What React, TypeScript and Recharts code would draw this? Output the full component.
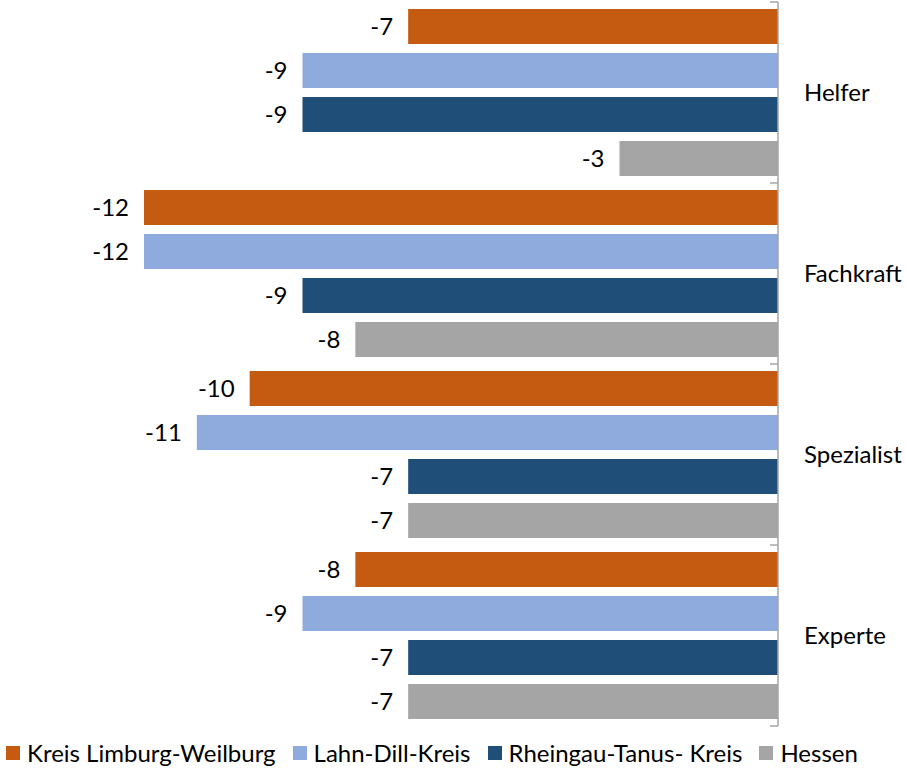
import { BarChart, Bar, XAxis, YAxis, LabelList } from "recharts";

const categories = ["Helfer", "Fachkraft", "Spezialist", "Experte"];
const seriesNames = ["Kreis Limburg-Weilburg", "Lahn-Dill-Kreis", "Rheingau-Tanus- Kreis", "Hessen"];
const seriesColors = ["#C55A11", "#8FAADC", "#1F4E79", "#A5A5A5"];
const limburg = [-7, -12, -10, -8];
const lahnDill = [-9, -12, -11, -9];
const rheingau = [-9, -9, -7, -7];
const hessen = [-3, -8, -7, -7];

const values = [limburg, lahnDill, rheingau, hessen];
const keys = ["s0", "s1", "s2", "s3"];

const data = categories.map((name, i) => {
  const row: Record<string, string | number> = { name };
  keys.forEach((k, j) => {
    row[k] = values[j][i];
  });
  return row;
});

const FONT = "Lato, 'Open Sans', sans-serif";
const FONT_SIZE = 24;
const PLOT_TOP = 2;
const PLOT_HEIGHT = 724;
const BAND = PLOT_HEIGHT / categories.length;
const TICK_MARGIN = 26;

function CategoryTick(props: any) {
  const { x, y, payload, index } = props;
  const axisX = x - TICK_MARGIN;
  const half = BAND / 2;
  return (
    <g>
      <line x1={axisX - 8} x2={axisX} y1={y - half} y2={y - half} stroke="#A6A6A6" strokeWidth={1.5} />
      {index === categories.length - 1 && (
        <line x1={axisX - 8} x2={axisX} y1={y + half} y2={y + half} stroke="#A6A6A6" strokeWidth={1.5} />
      )}
      <text x={x} y={y} dy={8} textAnchor="start" fill="#000" fontSize={FONT_SIZE} fontFamily={FONT}>
        {payload.value}
      </text>
    </g>
  );
}

function ValueLabel(props: any) {
  const { x, y, width, height, value } = props;
  const left = Math.min(x, x + width);
  return (
    <text
      x={left - 15}
      y={y + height / 2}
      dy={8}
      textAnchor="end"
      fill="#000"
      fontSize={FONT_SIZE}
      fontFamily={FONT}
    >
      {value}
    </text>
  );
}

export default function App() {
  return (
    <div style={{ position: "absolute", left: 0, top: 0, width: 906, height: 769, background: "#fff" }}>
      <BarChart
        width={906}
        height={769}
        data={data}
        layout="vertical"
        margin={{ top: PLOT_TOP, right: 28, bottom: 769 - PLOT_TOP - PLOT_HEIGHT, left: 144 }}
        barSize={35}
        barGap={9}
      >
        <XAxis type="number" domain={[-12, 0]} hide />
        <YAxis
          type="category"
          dataKey="name"
          orientation="right"
          width={100}
          axisLine={{ stroke: "#A6A6A6", strokeWidth: 1.5 }}
          tickLine={false}
          tickSize={0}
          tickMargin={TICK_MARGIN}
          tick={<CategoryTick />}
          interval={0}
        />
        {keys.map((k, j) => (
          <Bar key={k} dataKey={k} name={seriesNames[j]} fill={seriesColors[j]} isAnimationActive={false}>
            <LabelList dataKey={k} content={<ValueLabel />} />
          </Bar>
        ))}
      </BarChart>
      <div
        style={{
          position: "absolute",
          left: 6,
          top: 738,
          display: "flex",
          alignItems: "center",
          fontFamily: FONT,
          fontSize: FONT_SIZE,
          color: "#000",
          whiteSpace: "nowrap",
        }}
      >
        {seriesNames.map((n, j) => (
          <div key={n} style={{ display: "flex", alignItems: "center", marginRight: 17 }}>
            <span style={{ display: "inline-block", width: 14, height: 14, background: seriesColors[j], marginRight: 7 }} />
            <span>{n}</span>
          </div>
        ))}
      </div>
    </div>
  );
}
